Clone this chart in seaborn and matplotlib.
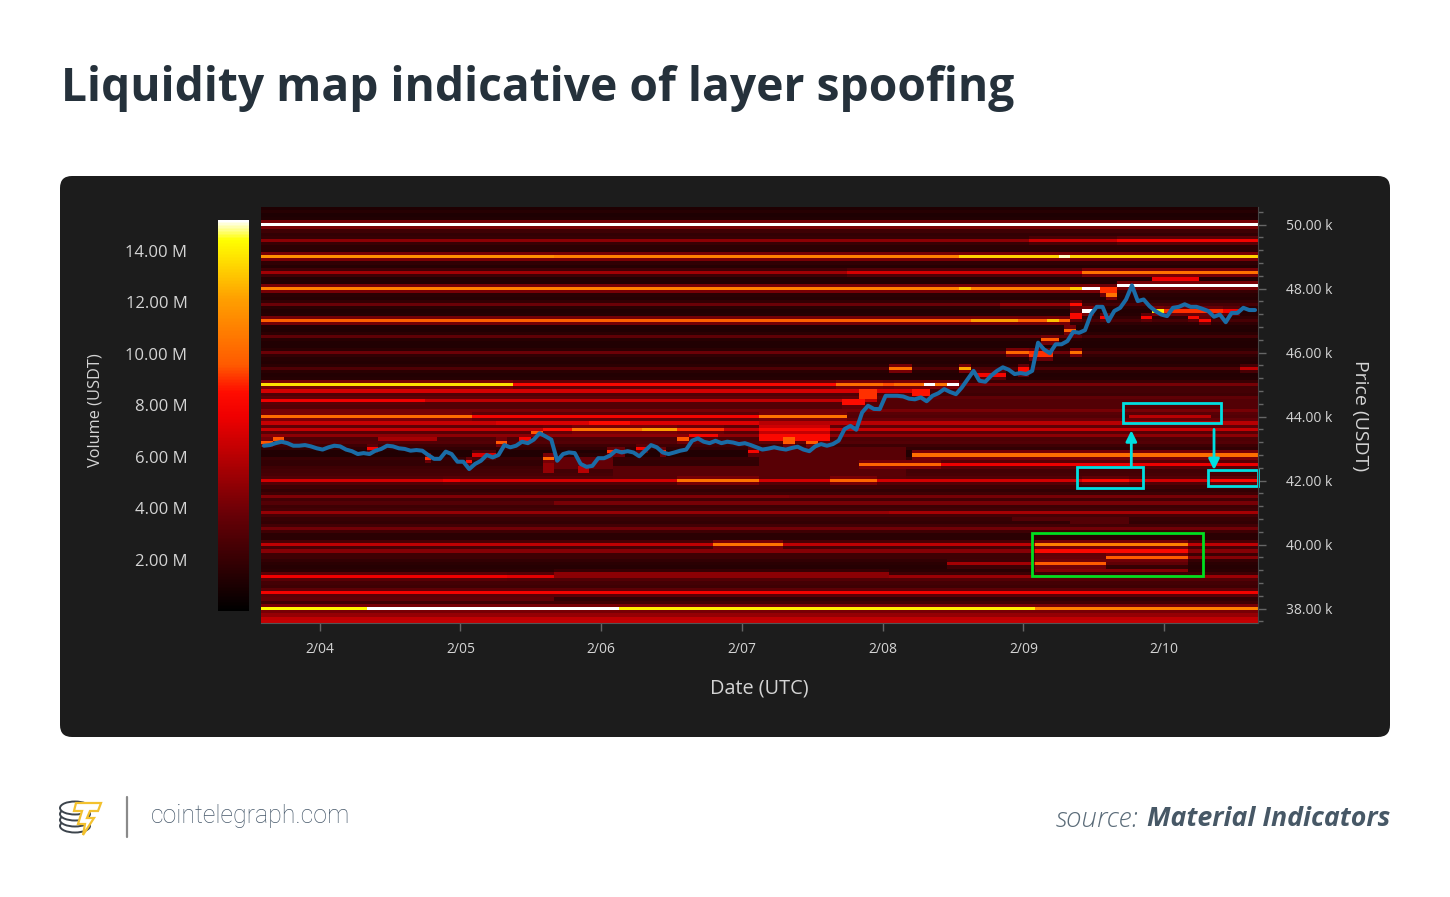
import numpy as np
import matplotlib
matplotlib.use("Agg")
import matplotlib.pyplot as plt
from matplotlib.colors import LinearSegmentedColormap
from matplotlib.patches import FancyBboxPatch, Rectangle, Ellipse, Polygon
import seaborn as sns

# price bins (USDT) go from 50500 down to 37600 in steps of 100, one column = 1 hour
top_price = 50500
bin_size = 100
n_hours = 170

# usual volume of each price bin in millions, top row first
base_volume = [
    1.1, 1.4, 1.1, 1.2, 1.3, 15.2, 1.8, 2.2, 1.8, 2.0,
    4.8, 2.0, 1.6, 1.5, 1.8, 11.2, 2.0, 1.7, 1.4, 2.0,
    5.4, 1.7, 1.3, 1.2, 1.6, 11.0, 2.0, 1.5, 1.4, 1.8,
    3.8, 1.6, 1.3, 1.4, 1.8, 9.8, 1.7, 1.3, 1.2, 1.6,
    3.4, 1.3, 1.2, 1.2, 1.6, 3.8, 1.8, 1.4, 1.3, 1.6,
    2.8, 1.5, 1.3, 1.4, 2.0, 6.0, 2.4, 6.2, 2.2, 3.4,
    6.0, 3.0, 3.0, 4.2, 3.2, 7.5, 3.6, 6.0, 3.4, 6.4,
    3.2, 4.8, 2.8, 3.0, 2.2, 1.8, 1.2, 1.2, 2.0, 1.8,
    1.8, 2.2, 2.4, 2.6, 3.0, 6.8, 3.0, 2.2, 1.8, 2.2,
    4.4, 2.4, 3.0, 2.2, 2.4, 5.0, 2.6, 2.0, 1.8, 2.4,
    4.0, 2.2, 1.6, 1.6, 2.4, 6.2, 2.6, 4.6, 2.2, 2.2,
    1.8, 1.5, 1.4, 1.5, 2.0, 7.2, 3.0, 2.4, 2.2, 2.8,
    7.8, 3.0, 3.4, 2.2, 1.2, 14.3, 1.4, 5.0, 6.2, 6.4,
]

# (price high, price low, hour from, hour to, volume in M)
upper_walls = [
    (49500, 49500, 131, 146, 6.5), (49500, 49500, 146, 170, 7.8),
    (49000, 49000, 0, 50, 11.6), (49000, 49000, 50, 119, 11.0),
    (49000, 49000, 119, 170, 13.4), (49000, 49000, 136, 138, 15.0),
    (48500, 48500, 100, 140, 6.8), (48500, 48500, 140, 170, 10.4),
    (48300, 48300, 152, 160, 7.5),
    (48000, 48000, 119, 121, 13.0), (48000, 48000, 138, 140, 13.2),
    (48000, 48000, 140, 146, 15.2), (48000, 48000, 146, 170, 2.4),
    (48100, 48100, 146, 170, 15.2), (47500, 47500, 126, 138, 5.0),
    (47500, 47500, 138, 170, 2.6),
    (47000, 47000, 121, 129, 12.0), (47000, 47000, 134, 136, 13.0),
    (47000, 47000, 138, 170, 2.6), (46000, 46000, 127, 131, 10.0),
    (46000, 46000, 140, 170, 2.6), (46000, 46000, 138, 140, 10.4),
    (46500, 46500, 140, 170, 2.4),
    (45500, 45500, 107, 111, 10.5), (45500, 45500, 119, 121, 12.3),
    (45500, 45500, 167, 170, 6.2),
    (45000, 45000, 0, 43, 13.6), (45000, 45000, 43, 98, 8.2),
    (45000, 45000, 98, 113, 10.3), (45000, 45000, 113, 115, 15.2),
    (45000, 45000, 115, 117, 10.6), (45000, 45000, 117, 119, 15.2),
    (45000, 45000, 119, 170, 4.2),
    (44800, 44800, 0, 113, 6.8), (44800, 44800, 113, 170, 2.4),
    (44500, 44500, 0, 28, 7.6), (44500, 44500, 28, 105, 6.2),
    (44500, 44500, 105, 170, 3.0),
    (44000, 44000, 0, 36, 10.2), (44000, 44000, 36, 85, 8.0),
    (44000, 44000, 85, 100, 10.5), (44000, 44000, 100, 148, 3.0),
    (44000, 44000, 162, 170, 3.0),
]

# blocks of resting orders that follow the price line
price_blocks = [
    (43800, 43800, 0, 40, 6.4), (43800, 43800, 40, 56, 7.0),
    (43800, 43800, 56, 63, 8.3), (43800, 43800, 63, 85, 7.0),
    (43600, 43600, 0, 48, 6.4), (43600, 43600, 48, 53, 8.5),
    (43600, 43600, 53, 65, 10.5), (43600, 43600, 65, 71, 12.0),
    (43600, 43600, 71, 79, 9.0),
    (43400, 43400, 73, 78, 8.0), (43300, 43300, 20, 30, 5.5),
    (43300, 43300, 71, 73, 9.5), (43200, 43200, 0, 2, 9.5),
    (43300, 43300, 2, 4, 9.5), (43000, 43000, 18, 20, 8.0),
    (42900, 42900, 59, 62, 9.0), (43000, 43000, 64, 66, 8.0),
    (42900, 42900, 68, 69, 9.0), (42900, 42900, 83, 85, 8.0),
    (42700, 42700, 28, 29, 9.0), (42600, 42600, 35, 36, 8.5),
    (42800, 42800, 36, 40, 7.0), (43200, 43200, 40, 42, 9.5),
    (43300, 43300, 44, 46, 8.0), (43500, 43500, 46, 48, 9.5),
    (42700, 42400, 50, 60, 3.6), (42700, 42700, 48, 50, 10.0),
    (42500, 42300, 48, 50, 5.0), (42400, 42300, 54, 56, 6.0),
    (42400, 42100, 60, 110, 3.2), (42000, 42000, 31, 34, 7.5),
    (42000, 42000, 71, 85, 10.5), (42000, 42000, 97, 105, 10.0),
    (43700, 43700, 85, 97, 6.6), (43600, 43600, 85, 97, 8.2),
    (43500, 43500, 85, 97, 6.4), (43400, 43300, 85, 97, 8.2),
    (43300, 43200, 89, 91, 9.6),
    (43200, 43200, 93, 95, 9.6), (43000, 42500, 85, 110, 3.2),
    (44800, 44600, 102, 105, 9.0), (44500, 44400, 99, 103, 8.4),
    (44800, 44700, 111, 114, 8.6), (45000, 45000, 106, 108, 9.4),
    (45300, 45300, 122, 127, 8.0), (45500, 45400, 129, 131, 8.4),
    (46000, 45900, 131, 135, 9.0), (46400, 46400, 133, 136, 9.6),
    (46700, 46700, 137, 139, 9.8), (47200, 47100, 138, 140, 8.2),
    (47500, 47500, 138, 140, 8.4), (47300, 47300, 140, 142, 15.2),
    (47100, 47100, 143, 145, 8.0), (47800, 47800, 144, 146, 10.5),
    (48000, 47900, 143, 146, 9.0), (47100, 47100, 150, 152, 8.0),
    (47300, 47300, 152, 154, 14.0), (47300, 47300, 154, 164, 9.0),
    (47100, 47100, 158, 160, 8.2), (47000, 47000, 160, 162, 8.2),
    (47300, 47300, 164, 167, 7.8),
]

# the walls inside the marked boxes and the rows around them
lower_walls = [
    (42800, 42800, 111, 170, 10.3), (42500, 42500, 102, 116, 10.0),
    (42500, 42500, 116, 170, 7.5), (42000, 42000, 140, 148, 8.2),
    (42000, 42000, 162, 170, 8.2), (44000, 44000, 148, 162, 6.0),
    (41000, 41000, 107, 170, 5.5), (41300, 41300, 50, 170, 4.2),
    (41500, 41500, 90, 170, 4.2), (40800, 40800, 128, 148, 3.0),
    (40700, 40700, 138, 148, 3.0),
    (40000, 40000, 77, 89, 10.5), (40000, 40000, 132, 158, 11.0),
    (39800, 39800, 132, 158, 8.2), (39600, 39600, 132, 144, 3.6),
    (39600, 39600, 144, 158, 9.6), (39600, 39600, 158, 170, 4.6),
    (39400, 39400, 117, 132, 5.5), (39400, 39400, 132, 144, 9.6),
    (39400, 39400, 144, 158, 3.4), (39200, 39200, 132, 158, 4.6),
    (39100, 39000, 50, 107, 4.8), (39000, 39000, 0, 42, 7.6),
    (39000, 39000, 107, 170, 5.2), (38300, 38300, 50, 170, 1.8),
    (38000, 38000, 18, 61, 15.2), (38000, 38000, 61, 132, 14.0),
    (38000, 38000, 132, 170, 11.0),
]

# hourly price in USDT
price_usdt = [
    43090, 43110, 43170, 43215, 43170, 43090, 43090, 43110, 43070, 43010,
    42970, 43040, 43090, 43070, 42970, 42920, 42830, 42860, 42830, 42935,
    42990, 43090, 43070, 43010, 42990, 42935, 42955, 42935, 42800, 42680,
    42680, 42905, 42830, 42590, 42590, 42360, 42520, 42620, 42800, 42725,
    42800, 43110, 43040, 43090, 43215, 43170, 43280, 43480, 43385, 43280,
    42620, 42830, 42880, 42860, 42520, 42430, 42460, 42700, 42700, 42780,
    42935, 42880, 42920, 42880, 42760, 42935, 43110, 43040, 42880, 42830,
    42880, 42935, 42970, 43245, 43320, 43215, 43170, 43245, 43170, 43215,
    43190, 43140, 43170, 43110, 43040, 42970, 43000, 43040, 43000, 42970,
    43020, 43060, 42970, 42920, 43070, 43140, 43090, 43140, 43250, 43610,
    43710, 43590, 44130, 44340, 44240, 44233, 44650, 44650, 44650, 44630,
    44560, 44540, 44600, 44480, 44650, 44730, 44860, 44770, 44700, 44910,
    45170, 45430, 45120, 45090, 45280, 45430, 45540, 45465, 45330, 45360,
    45330, 45430, 46310, 46100, 45980, 46260, 46260, 46360, 46650, 46620,
    46700, 47190, 47430, 47430, 46980, 47300, 47400, 47660, 48100, 47610,
    47660, 47450, 47300, 47190, 47140, 47400, 47430, 47510, 47430, 47430,
    47370, 47300, 47120, 47190, 46950, 47240, 47240, 47400, 47330, 47330,
]

day_labels = ["2/04", "2/05", "2/06", "2/07", "2/08", "2/09", "2/10"]
day_hours = [10, 34, 58, 82, 106, 130, 154]
price_ticks = [38000, 40000, 42000, 44000, 46000, 48000, 50000]
volume_ticks = [2, 4, 6, 8, 10, 12, 14]

# rectangles around the spoof walls: hour from, hour to, price low, price high
cyan_boxes = [(146.9, 163.7, 43797, 44420), (139.2, 150.4, 41770, 42425),
              (161.4, 170.0, 41833, 42332)]
green_box = (131.5, 160.7, 39027, 40368)

# build the heatmap table
volume = np.tile(np.array(base_volume).reshape(-1, 1), (1, n_hours))
for hi, lo, h0, h1, v in upper_walls + price_blocks + lower_walls:
    r0 = (top_price - hi) // bin_size
    r1 = (top_price - lo) // bin_size + 1
    volume[r0:r1, h0:h1] = v

# walls bleed a bit into the bins next to them, the original map is soft
spread = np.zeros_like(volume)
spread[1:] = volume[:-1]
spread[:-1] = np.maximum(spread[:-1], volume[1:])
volume = np.maximum(volume, np.minimum(0.42 * spread, 4.2))

sns.set_style("dark")
plt.rcParams["font.family"] = ["Open Sans", "DejaVu Sans"]

fire = LinearSegmentedColormap.from_list("fire_map", [
    (0.0, "#000000"), (0.25, "#6a0006"), (0.5, "#f00000"), (0.56, "#ff0c00"),
    (0.63, "#ff5a00"), (0.8, "#ffa000"), (0.95, "#ffff00"), (1.0, "#ffffff")])

W, H = 1450, 897
fig = plt.figure(figsize=(W / 100, H / 100), dpi=100, facecolor="white")

# background layer in pixels for the panel and the texts
bg = fig.add_axes([0, 0, 1, 1], zorder=-1)
bg.set_xlim(0, W)
bg.set_ylim(H, 0)
bg.axis("off")
bg.add_patch(FancyBboxPatch((60, 176), 1330, 561, boxstyle="round,pad=0,rounding_size=12",
                            fc="#1c1c1c", ec="none"))
bg.text(61, 88, "Liquidity map indicative of layer spoofing", fontsize=33.2, fontweight="bold",
        family="Open Sans", color="#25313b", va="center", ha="left")

# logo
for cy in [826, 820, 814, 808]:
    bg.add_patch(Ellipse((75, cy), 30, 13, fc="white", ec="#3c444c", lw=1.4))
bg.add_patch(Polygon([(76, 803), (101, 803), (98, 811), (90, 811), (87, 818), (94, 818),
                      (83, 835), (85, 824), (78, 824), (82, 811), (74, 811)],
                     closed=True, fc="white", ec="#f3c12e", lw=1.6))
bg.plot([127, 127], [797, 837], color="#8a8a8a", lw=1.6)
bg.text(151, 816.5, "cointelegraph.com", fontsize=17.9, family="Roboto", fontweight="light",
        color="#46586a", va="center")
bg.text(1390, 819.5, "Material Indicators", fontsize=19.3, fontweight="bold", style="italic",
        family="Open Sans", color="#475866", ha="right", va="center")
bg.text(1139, 819.5, "source:", fontsize=20, style="italic", family="Open Sans", fontweight="light",
        color="#5b6c79", ha="right", va="center")

ax = fig.add_axes([261 / W, 1 - 623 / H, 997 / W, 416 / H])
cax = fig.add_axes([218 / W, 1 - 611 / H, 31 / W, 391 / H])

sns.heatmap(volume, ax=ax, cmap=fire, vmin=0, vmax=15.2, cbar_ax=cax,
            xticklabels=False, yticklabels=False)

label_col = "#d4d4d4"
cbar = ax.collections[0].colorbar
cbar.set_ticks(volume_ticks)
cbar.set_ticklabels([f"{v:.2f} M" for v in volume_ticks])
cax.yaxis.set_ticks_position("left")
cax.tick_params(length=0, pad=22, labelsize=12, labelcolor=label_col)
for s in cax.spines.values():
    s.set_visible(False)
bg.text(96, 410, "Volume (USDT)", fontsize=11.8, color=label_col, rotation=90, ha="center", va="center")

ax.set_xticks(day_hours)
ax.set_xticklabels(day_labels)
ax.tick_params(axis="x", bottom=True, length=6, width=1, color="#666666", labelsize=10,
               labelcolor=label_col, pad=8)
ax.set_xlabel("Date (UTC)", fontsize=14.3, color=label_col, labelpad=15.5)
ax.spines["bottom"].set_visible(True)
ax.spines["bottom"].set_color("#555555")

# second axes in real prices for the line and the boxes
ax2 = ax.twinx()
ax2.set_ylim(top_price - 12950, top_price + 50)
ax2.set_xlim(0, n_hours)
ax2.patch.set_alpha(0)
ax2.grid(False)
sns.lineplot(x=np.arange(n_hours) + 0.5, y=price_usdt, ax=ax2, color="#1a6ca6", lw=2.9, legend=False)
ax2.set_yticks(price_ticks)
ax2.set_yticklabels([f"{p / 1000:.2f} k" for p in price_ticks])
ax2.set_yticks(np.arange(37600, 50501, 400), minor=True)
ax2.tick_params(axis="y", which="major", right=True, length=6, width=1, color="#666666",
                labelsize=10, labelcolor=label_col, pad=14)
ax2.tick_params(axis="y", which="minor", right=True, length=3.6, width=1, color="#666666")
ax2.set_ylabel("")
for name, s in ax2.spines.items():
    s.set_visible(name == "right")
    s.set_color("#444444")
bg.text(1360, 416, "Price (USDT)", fontsize=14, color=label_col, rotation=270, ha="center", va="center")

for h0, h1, p0, p1 in cyan_boxes:
    ax2.add_patch(Rectangle((h0, p0), h1 - h0, p1 - p0, fill=False, ec="#00dfe0", lw=2, clip_on=False))
ax2.add_patch(Rectangle((green_box[0], green_box[2]), green_box[1] - green_box[0],
                        green_box[3] - green_box[2], fill=False, ec="#00df20", lw=2))
ax2.annotate("", xy=(148.4, 43570), xytext=(148.4, 42425),
             arrowprops=dict(arrowstyle="-|>", color="#00dfe0", lw=2, mutation_scale=16, shrinkA=0, shrinkB=0))
ax2.annotate("", xy=(162.5, 42332), xytext=(162.5, 43600),
             arrowprops=dict(arrowstyle="-|>", color="#00dfe0", lw=2, mutation_scale=16, shrinkA=0, shrinkB=0))

fig.savefig("out.png", dpi=100)
